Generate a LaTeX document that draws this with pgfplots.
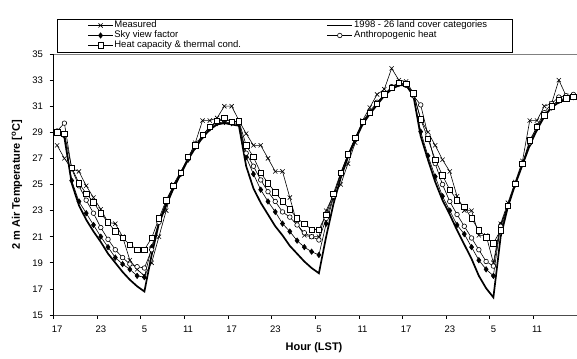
\documentclass[border=0pt]{standalone}
\usepackage{fontspec}
\setmainfont{Liberation Sans}
\usepackage{pgfplots}
\usepackage{pgfplotstable}
\pgfplotsset{compat=1.18}
\pgfplotstableread{
i M L S A H
0 28.0 29.0 29.0 29.1 29.0
1 27.0 28.6 28.8 29.7 28.9
2 26.2 25.1 25.3 26.2 26.3
3 26.0 23.4 23.7 24.9 25.1
4 24.9 22.3 22.8 23.8 24.3
5 24.0 21.4 21.9 22.8 23.65
6 23.1 20.6 21.0 21.7 22.8
7 22.1 19.7 20.2 20.8 22.1
8 22.0 19.0 19.4 20.0 21.4
9 21.0 18.3 18.9 19.4 20.9
10 19.2 17.7 18.5 18.9 20.4
11 18.5 17.2 18.0 18.7 20.0
12 18.0 16.8 17.9 18.6 20.0
13 19.0 19.6 20.2 20.0 20.9
14 21.0 22.0 22.2 22.1 22.4
15 23.0 23.4 23.6 23.7 23.8
16 25.0 24.7 24.8 24.9 24.9
17 26.0 25.8 25.8 25.9 25.9
18 27.0 26.9 26.9 27.0 27.1
19 28.2 27.8 27.9 27.9 28.0
20 29.9 28.6 28.7 28.8 28.8
21 29.9 29.2 29.3 29.4 29.4
22 30.1 29.6 29.7 29.8 29.9
23 31.0 29.7 29.8 30.0 30.1
24 31.0 29.6 29.7 29.8 29.8
25 29.9 29.5 29.7 29.8 29.85
26 28.9 26.4 27.1 27.4 28.0
27 28.0 24.7 25.8 26.4 27.1
28 28.0 23.6 24.6 25.35 25.9
29 27.0 22.7 23.7 24.45 25.1
30 26.0 21.8 22.9 23.7 24.4
31 26.0 21.1 22.0 22.9 23.7
32 24.0 20.3 21.4 22.5 23.1
33 22.0 19.7 20.7 21.9 22.4
34 21.1 19.1 20.2 21.3 22.0
35 21.0 18.6 19.85 21.0 21.55
36 21.0 18.2 19.6 20.75 21.55
37 23.0 21.0 22.0 22.4 22.7
38 24.2 23.5 24.0 24.1 24.3
39 25.0 25.5 25.8 25.8 25.9
40 26.6 27.1 27.3 27.3 27.3
41 28.2 28.4 28.5 28.5 28.6
42 29.9 29.6 29.7 29.8 29.8
43 30.9 30.4 30.5 30.6 30.5
44 31.9 31.1 31.2 31.3 31.2
45 32.3 31.8 31.9 31.9 31.9
46 33.9 32.3 32.4 32.5 32.4
47 33.0 32.6 32.7 32.8 32.8
48 32.9 32.6 32.7 32.6 32.7
49 32.0 31.8 31.8 31.8 32.0
50 30.0 28.7 29.05 31.1 30.0
51 29.0 26.9 27.2 28.8 28.5
52 28.0 25.2 25.6 26.6 26.9
53 26.9 23.8 24.1 25.0 25.7
54 26.0 22.7 23.0 23.7 24.6
55 24.1 21.5 21.9 22.7 23.8
56 23.0 20.4 21.2 21.8 23.3
57 23.0 19.3 20.2 20.9 22.4
58 21.1 18.0 19.2 20.0 21.5
59 21.1 17.05 18.5 19.1 20.95
60 19.0 16.35 18.0 18.75 20.5
61 22.0 21.0 21.9 21.8 21.5
62 23.6 23.3 23.4 23.4 23.35
63 25.2 25.0 25.0 25.0 25.05
64 26.8 26.5 26.6 26.6 26.6
65 29.9 28.0 28.1 28.2 28.4
66 29.9 29.2 29.3 29.5 29.4
67 31.0 30.2 30.3 30.5 30.3
68 31.2 30.9 30.9 31.2 31.0
69 33.0 31.3 31.4 31.7 31.5
70 31.8 31.5 31.6 31.8 31.6
71 31.8 31.6 31.7 31.9 31.7
}\datatable
\begin{document}
\begin{tikzpicture}
\begin{axis}[
  at={(53.5pt,43pt)}, anchor=south west,
  scale only axis, width=523.5pt, height=261pt,
  xmin=-0.5, xmax=71.5, ymin=15, ymax=35,
  axis x line*=bottom, axis y line*=left,
  x axis line style={black!70, line width=0.8pt},
  y axis line style={black, line width=0.8pt},
  xtick={-0.5,5.5,...,65.5},
  xticklabels={17,23,5,11,17,23,5,11,17,23,5,11},
  ytick={15,17,...,35},
  tick align=outside, major tick length=4pt,
  tick style={black, line width=0.6pt},
  /pgf/number format/assume math mode=true,
  tick label style={font=\fontsize{9.5}{11}\selectfont},
  xticklabel style={xshift=3.66pt, yshift=-3pt},
  yticklabel style={xshift=-3pt},
  every axis y label/.style={at={(axis description cs:-0.0697,0.5)}, rotate=90, anchor=center},
  every axis x label/.style={at={(axis description cs:0.4976,-0.126)}, anchor=center},
  label style={font=\fontsize{11}{13}\selectfont\bfseries},
  ylabel={2 m Air Temperature [\textsuperscript{o}C]},
  xlabel={Hour (LST)},
  clip=false,
  legend columns=2,
  legend cell align=left,
  legend style={at={(axis description cs:0.448,1.0709)}, anchor=center, draw=none, fill=none,
    font=\fontsize{9.5}{10}\selectfont, row sep=0pt, column sep=0pt,
    nodes={inner xsep=1pt, inner ysep=0.5pt, text height=7pt, text depth=2pt}},
  legend image code/.code={\draw[mark repeat=2,mark phase=2,#1] plot coordinates {(0pt,0pt) (12.5pt,0pt) (25pt,0pt)};},
]
\draw[gray, line width=0.8pt] (axis cs:-0.5,35) -- (axis cs:71.5,35);
\addplot[black, line width=0.6pt, mark=x, mark size=3pt, mark options={solid}, forget plot] table[x=i,y=M]{\datatable};
\addplot[black, line width=1.7pt, no marks, forget plot] table[x=i,y=L]{\datatable};
\addplot[black, line width=0.6pt, mark=diamond*, mark size=2.7pt, mark options={solid, fill=black}, forget plot] table[x=i,y=S]{\datatable};
\addplot[black, line width=0.6pt, mark=*, mark size=2.3pt, mark options={solid, fill=white}, forget plot] table[x=i,y=A]{\datatable};
\addplot[black, line width=0.6pt, mark=square*, mark size=2.7pt, mark options={solid, fill=white}, forget plot] table[x=i,y=H]{\datatable};
\addlegendimage{black, line width=0.6pt, mark=x, mark size=3pt}
\addlegendentry{\makebox[211pt][l]{Measured}}
\addlegendimage{black, line width=1.8pt, no marks}
\addlegendentry{1998 - 26 land cover categories}
\addlegendimage{black, line width=0.6pt, mark=diamond*, mark size=2.7pt, mark options={fill=black}}
\addlegendentry{\makebox[211pt][l]{Sky view factor}}
\addlegendimage{black, line width=0.6pt, mark=*, mark size=2.3pt, mark options={fill=white}}
\addlegendentry{Anthropogenic heat}
\addlegendimage{black, line width=0.6pt, mark=square*, mark size=2.7pt, mark options={fill=white}}
\addlegendentry{\makebox[211pt][l]{Heat capacity \& thermal cond.}}
\end{axis}
\draw[black, line width=0.8pt] (57pt,306pt) rectangle (512pt,339pt);
\pgfresetboundingbox
\useasboundingbox (0,0) rectangle (577pt,358pt);
\end{tikzpicture}
\end{document}
